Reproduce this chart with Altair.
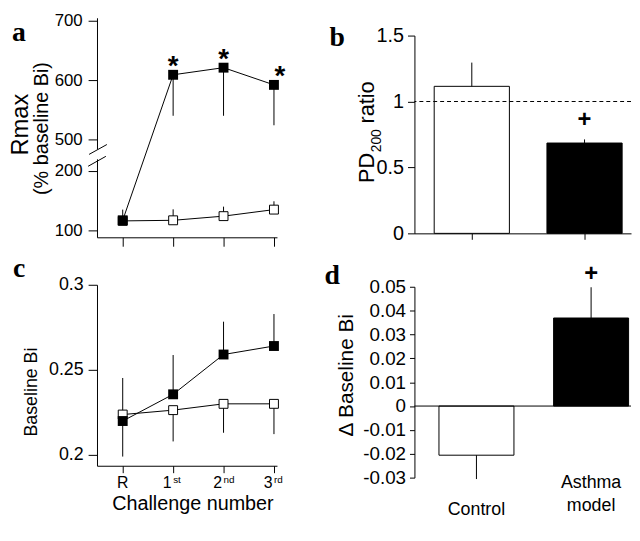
import altair as alt
import pandas as pd

# ------------------------------------------------------------------ data
challenge = ["R", "1st", "2nd", "3rd"]
challenge_pos = [0, 1, 2, 3]
tick_main = ["R", "1", "2", "3"]
tick_sup = ["", "st", "nd", "rd"]

# panel a : Rmax (% baseline Bi)
rmax_control = [116, 117, 124, 135]
rmax_control_err = [135, 135.5, 140, 149]
rmax_asthma = [117, 609, 621, 592]
rmax_asthma_err = [117, 540, 540, 524]
star_pos = [1, 2, 3.12]
star_at = [609, 621, 592]

# panel c : baseline Bi
bi_control = [0.2237, 0.2263, 0.2300, 0.2300]
bi_control_err = [0.2452, 0.2079, 0.2130, 0.2122]
bi_asthma = [0.2199, 0.2356, 0.2590, 0.2640]
bi_asthma_err = [0.1990, 0.2587, 0.2783, 0.2828]

# panel b : PD200 ratio
groups = ["Control", "Asthma model"]
pd200_ratio = [1.115, 0.685]
pd200_err = [1.295, 0.7125]
pd200_ref = [1.0]
pd200_mark = [0.81]

# panel d : delta baseline Bi
delta_bi = [-0.0206, 0.0369]
delta_bi_err = [-0.0306, 0.0498]
delta_mark = [0.0525]
zero_line = [0.0]

# axis break of panel a (values above the break are drawn shifted down)
BREAK_SHIFT = 247
break_gap = [219.7, 236.3]
slash_x0 = [-0.667, -0.686]
slash_x1 = [-0.314, -0.334]
slash_y0 = [228, 208]
slash_y1 = [244.6, 224.7]

# ------------------------------------------------------------------ style
FONT = "Liberation Sans"
SERIF = "Liberation Serif"
A_W, A_H = 182, 222
B_W, B_H = 219, 218
C_W, C_H = 182, 183
D_W, D_H = 219, 196


def axis_style(**kw):
    base = dict(domainColor="black", tickColor="black", labelColor="black",
                titleColor="black", labelFont=FONT, titleFont=FONT,
                titleFontWeight="normal", grid=False, domainWidth=1,
                tickWidth=1, labelOverlap=False)
    base.update(kw)
    return alt.Axis(**base)


def label(txt, x, y, size, font=FONT, weight="normal", angle=0, align="left"):
    return alt.Chart(pd.DataFrame({"t": [txt]})).mark_text(
        font=font, fontSize=size, fontWeight=weight, angle=angle,
        align=align, baseline="alphabetic", color="black"
    ).encode(x=alt.value(x), y=alt.value(y), text="t:N")


def disp(f):
    return f"datum.{f} > 300 ? datum.{f} - {BREAK_SHIFT} : datum.{f}"


# ------------------------------------------------------------------ panel a
df_a = pd.DataFrame({
    "pos": challenge_pos * 2,
    "series": ["Control"] * 4 + ["Asthma model"] * 4,
    "value": rmax_control + rmax_asthma,
    "err": rmax_control_err + rmax_asthma_err,
})
xa_scale = alt.Scale(domain=[-0.51, 3.06], nice=False, zero=False)
ya_scale = alt.Scale(domain=[88.35, 458], nice=False, zero=False)
xa_axis = axis_style(values=[0, 1, 2, 3], labels=False, tickSize=9, title=None)
ya_axis = axis_style(values=[100, 200, 253, 353, 453],
                     labelExpr=f"'' + (datum.value > 230 ? datum.value + {BREAK_SHIFT} : datum.value)",
                     tickSize=9, labelPadding=6, labelFontSize=17,
                     title="Rmax", titleFontSize=24, titleX=-70, titleY=107.5,
                     titleAngle=270, titleAlign="center", titleBaseline="alphabetic")
xa = alt.X("pos:Q", scale=xa_scale, axis=xa_axis)
ya = alt.Y("yd:Q", scale=ya_scale, axis=ya_axis)

base_a = alt.Chart(df_a).transform_calculate(yd=disp("value"), ed=disp("err"))
a_err = base_a.mark_rule(color="black", strokeWidth=1).encode(x=xa, y=ya, y2="ed:Q")
a_line = base_a.mark_line(color="black", strokeWidth=1).encode(x=xa, y=ya, detail="series:N")
a_ctrl = base_a.transform_filter("datum.series == 'Control'").mark_square(
    size=81, fill="white", stroke="black", strokeWidth=1, opacity=1).encode(x=xa, y=ya)
a_asth = base_a.transform_filter("datum.series == 'Asthma model'").mark_square(
    size=100, fill="black", stroke="black", strokeWidth=0, opacity=1).encode(x=xa, y=ya)
a_star = alt.Chart(pd.DataFrame({"pos": star_pos, "v": star_at})).transform_calculate(
    yd=disp("v")).mark_text(text="*", font=FONT, fontSize=28, fontWeight="bold",
                            baseline="alphabetic", color="black").encode(x=xa, y=ya)
a_gap = alt.Chart(pd.DataFrame({"pos": [-0.51], "yd": [break_gap[0]], "y1": [break_gap[1]]})).mark_rule(
    color="white", strokeWidth=4).encode(x=xa, y=ya, y2="y1:Q")
a_slash = alt.Chart(pd.DataFrame({"pos": slash_x0, "x1": slash_x1, "yd": slash_y0, "y1": slash_y1})).mark_rule(
    color="black", strokeWidth=1).encode(x=xa, x2="x1:Q", y=ya, y2="y1:Q")
a_sub = label("(% baseline Bi)", -50, 112, 20, angle=270, align="center")
a_let = label("a", -86, 23, 28, font=SERIF, weight="bold")
panel_a = alt.layer(a_err, a_line, a_ctrl, a_asth, a_star, a_gap, a_slash, a_sub, a_let).properties(
    width=A_W, height=A_H)

# ------------------------------------------------------------------ panel b
df_b = pd.DataFrame({"group": groups, "value": pd200_ratio, "err": pd200_err})
xb_scale = alt.Scale(domain=groups, paddingInner=0.333, paddingOuter=0.127, align=0.69)
yb_scale = alt.Scale(domain=[0, 1.5], range=[B_H, B_H - 200], nice=False, zero=True)
xb_axis = axis_style(labels=False, title=None, tickSize=6, bandPosition=0.5)
yb_axis = axis_style(values=[0, 0.5, 1, 1.5], labelExpr="'' + datum.value",
                     tickSize=7, labelPadding=4, labelFontSize=20, title=None)
xb = alt.X("group:N", sort=groups, scale=xb_scale, axis=xb_axis)
b_bar = alt.Chart(df_b).mark_bar(stroke="black", strokeWidth=1).encode(
    x=xb, y=alt.Y("value:Q", scale=yb_scale, stack=None, axis=yb_axis), y2=alt.datum(0),
    fill=alt.Fill("group:N", scale=alt.Scale(domain=groups, range=["white", "black"]), legend=None))
b_err = alt.Chart(df_b).mark_rule(color="black", strokeWidth=1).encode(
    x=xb, y=alt.Y("value:Q", scale=yb_scale, axis=yb_axis), y2="err:Q")
b_ref = alt.Chart(pd.DataFrame({"ref": pd200_ref})).mark_rule(
    color="black", strokeWidth=1, strokeDash=[4, 3]).encode(
    y=alt.Y("ref:Q", scale=yb_scale, axis=yb_axis))
b_plus = alt.Chart(pd.DataFrame({"group": [groups[1]], "v": pd200_mark})).mark_text(
    text="+", font=FONT, fontSize=24, fontWeight="bold", baseline="alphabetic", color="black").encode(
    x=xb, y=alt.Y("v:Q", scale=yb_scale, axis=yb_axis))
b_t1 = label("PD", -41, 167, 22, angle=270)
b_t2 = label("200", -34, 136, 14, angle=270)
b_t3 = label("ratio", -41, 107, 22, angle=270)
b_let = label("b", -86, 29, 28, font=SERIF, weight="bold")
panel_b = alt.layer(b_bar, b_err, b_ref, b_plus, b_t1, b_t2, b_t3, b_let).properties(width=B_W, height=B_H)

# ------------------------------------------------------------------ panel c
df_c = pd.DataFrame({
    "pos": challenge_pos * 2,
    "series": ["Control"] * 4 + ["Asthma model"] * 4,
    "value": bi_control + bi_asthma,
    "err": bi_control_err + bi_asthma_err,
})
xc_scale = alt.Scale(domain=[-0.51, 3.06], nice=False, zero=False)
yc_scale = alt.Scale(domain=[0.19360, 0.3], nice=False, zero=False)
xc_axis = axis_style(values=[0, 1, 2, 3], labels=False, tickSize=7,
                     title="Challenge number", titleFontSize=20, titleX=96.5, titleY=44,
                     titleAlign="center", titleBaseline="alphabetic", titleAngle=0)
yc_axis = axis_style(values=[0.2, 0.25, 0.3], labelExpr="'' + datum.value",
                     tickSize=9, labelPadding=5, labelFontSize=18,
                     title="Baseline Bi", titleFontSize=18, titleX=-61, titleY=108,
                     titleAngle=270, titleAlign="center", titleBaseline="alphabetic")
xc = alt.X("pos:Q", scale=xc_scale, axis=xc_axis)
yc = alt.Y("value:Q", scale=yc_scale, axis=yc_axis)
c_err = alt.Chart(df_c).mark_rule(color="black", strokeWidth=1).encode(x=xc, y=yc, y2="err:Q")
c_line = alt.Chart(df_c).mark_line(color="black", strokeWidth=1).encode(x=xc, y=yc, detail="series:N")
c_ctrl = alt.Chart(df_c).transform_filter("datum.series == 'Control'").mark_square(
    size=81, fill="white", stroke="black", strokeWidth=1, opacity=1).encode(x=xc, y=yc)
c_asth = alt.Chart(df_c).transform_filter("datum.series == 'Asthma model'").mark_square(
    size=100, fill="black", stroke="black", strokeWidth=0, opacity=1).encode(x=xc, y=yc)
df_ct = pd.DataFrame({"pos": challenge_pos, "main": tick_main, "sup": tick_sup})
c_tR = alt.Chart(df_ct).transform_filter("datum.pos == 0").mark_text(
    font=FONT, fontSize=16, align="center", baseline="alphabetic", color="black").encode(
    x=xc, y=alt.value(C_H + 23), text="main:N")
c_tN = alt.Chart(df_ct).transform_filter("datum.pos > 0").mark_text(
    font=FONT, fontSize=16, align="right", dx=-1.5, baseline="alphabetic", color="black").encode(
    x=xc, y=alt.value(C_H + 23), text="main:N")
c_tS = alt.Chart(df_ct).transform_filter("datum.pos > 0").mark_text(
    font=FONT, fontSize=10, align="left", dx=0, baseline="alphabetic", color="black").encode(
    x=xc, y=alt.value(C_H + 17), text="sup:N")
c_let = label("c", -85, -8, 28, font=SERIF, weight="bold")
panel_c = alt.layer(c_err, c_line, c_ctrl, c_asth, c_tR, c_tN, c_tS, c_let).properties(
    width=C_W, height=C_H)

# ------------------------------------------------------------------ panel d
df_d = pd.DataFrame({"group": groups, "value": delta_bi, "err": delta_bi_err})
xd_scale = alt.Scale(domain=groups, paddingInner=0.346, paddingOuter=0.1175, align=0.91)
yd_scale = alt.Scale(domain=[-0.03, 0.05], range=[195, 2], nice=False, zero=True)
xd = alt.X("group:N", sort=groups, scale=xd_scale, axis=None)
yd_axis = axis_style(values=[-0.03, -0.02, -0.01, 0, 0.01, 0.02, 0.03, 0.04, 0.05],
                     labelExpr="'' + datum.value", tickSize=5, labelPadding=4,
                     labelFontSize=19, title="Δ Baseline Bi", titleFontSize=21,
                     titleX=-63, titleY=91, titleAngle=270, titleAlign="center",
                     titleBaseline="alphabetic")
d_bar = alt.Chart(df_d).mark_bar(stroke="black", strokeWidth=1).encode(
    x=xd, y=alt.Y("value:Q", scale=yd_scale, stack=None, axis=yd_axis), y2=alt.datum(0),
    fill=alt.Fill("group:N", scale=alt.Scale(domain=groups, range=["white", "black"]), legend=None))
d_err = alt.Chart(df_d).mark_rule(color="black", strokeWidth=1).encode(
    x=xd, y=alt.Y("value:Q", scale=yd_scale, axis=yd_axis), y2="err:Q")
d_zero = alt.Chart(pd.DataFrame({"z": zero_line})).mark_rule(color="black", strokeWidth=1).encode(
    y=alt.Y("z:Q", scale=yd_scale, axis=yd_axis))
d_plus = alt.Chart(pd.DataFrame({"group": [groups[1]], "v": delta_mark})).mark_text(
    text="+", font=FONT, fontSize=24, fontWeight="bold", baseline="alphabetic", color="black").encode(
    x=xd, y=alt.Y("v:Q", scale=yd_scale, axis=yd_axis))
d_lab1 = alt.Chart(df_d).transform_filter(f"datum.group == '{groups[0]}'").mark_text(
    font=FONT, fontSize=18, baseline="alphabetic", color="black").encode(
    x=xd, y=alt.value(233), text="group:N")
d_lab2 = alt.Chart(df_d).transform_filter(f"datum.group == '{groups[1]}'").mark_text(
    font=FONT, fontSize=18, baseline="alphabetic", color="black", lineBreak=" ", lineHeight=24).encode(
    x=xd, y=alt.value(205), text="group:N")
d_let = label("d", -91, -1, 28, font=SERIF, weight="bold")
panel_d = alt.layer(d_bar, d_err, d_zero, d_plus, d_lab1, d_lab2, d_let).properties(width=D_W, height=D_H)

# ------------------------------------------------------------------ figure
chart = alt.concat(
    panel_a, panel_b, panel_c, panel_d,
    columns=2, spacing={"row": 48, "column": 139}, bounds="flush", align="each",
).properties(padding=0).configure_view(stroke="transparent")

chart.save("out.html", embed_options={"renderer": "svg", "actions": False})
